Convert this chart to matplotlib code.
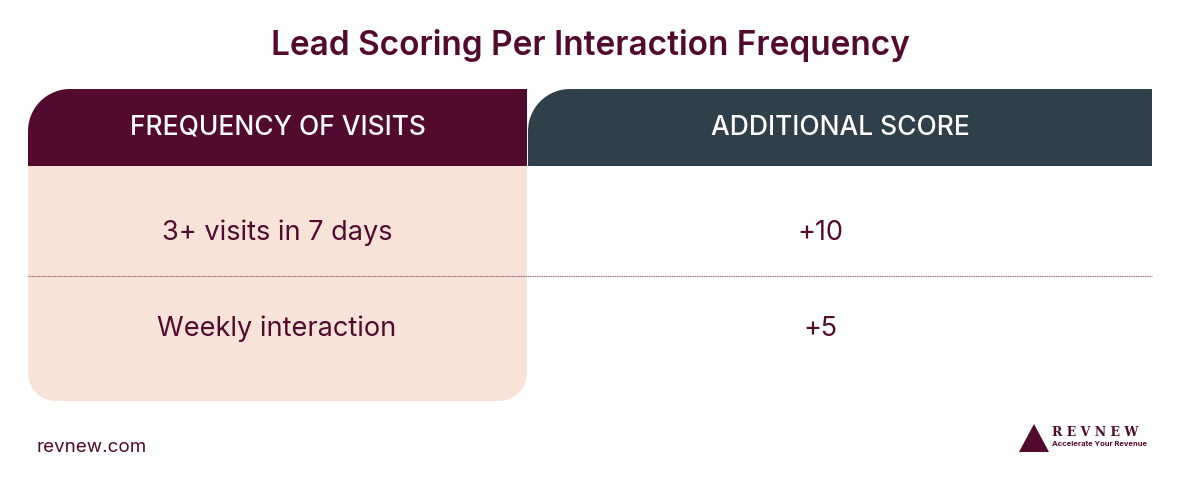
import numpy as np
import matplotlib.pyplot as plt
from matplotlib.patches import Polygon

plt.rcParams["font.family"] = "Inter"

title = "Lead Scoring Per Interaction Frequency"
headers = ["FREQUENCY OF VISITS", "ADDITIONAL SCORE"]
frequencies = ["3+ visits in 7 days", "Weekly interaction"]
scores = ["+10", "+5"]

WINE = "#520a2e"
SLATE = "#2f404a"
PEACH = "#f7e3d7"


def rounded_box(x0, y0, x1, y1, radii):
    """Polygon with per-corner radii (tl, tr, br, bl) in y-down pixel coords."""
    tl, tr, br, bl = radii
    pts = []

    def arc(cx, cy, r, a0, a1):
        if r == 0:
            pts.append((cx, cy))
            return
        for a in np.linspace(a0, a1, 20):
            pts.append((cx + r * np.cos(a), cy + r * np.sin(a)))

    arc(x0 + tl, y0 + tl, tl, np.pi, 1.5 * np.pi)
    arc(x1 - tr, y0 + tr, tr, 1.5 * np.pi, 2 * np.pi)
    arc(x1 - br, y1 - br, br, 0, 0.5 * np.pi)
    arc(x0 + bl, y1 - bl, bl, 0.5 * np.pi, np.pi)
    return pts


fig = plt.figure(figsize=(11.8, 4.8), dpi=100)
ax = fig.add_axes([0, 0, 1, 1])
ax.set_xlim(0, 1180)
ax.set_ylim(480, 0)
ax.axis("off")

ax.text(590, 46, title, ha="center", va="center", fontsize=24,
        fontweight="semibold", color=WINE)

# body and headers
ax.add_patch(Polygon(rounded_box(28, 160, 527, 401, (0, 0, 28, 28)), color=PEACH, lw=0))
ax.add_patch(Polygon(rounded_box(28, 89, 527, 166, (42, 0, 0, 0)), color=WINE, lw=0))
ax.add_patch(Polygon(rounded_box(528, 89, 1152, 166, (42, 0, 0, 0)), color=SLATE, lw=0))

ax.text(278, 128, headers[0], ha="center", va="center", fontsize=19,
        fontweight="medium", color="white")
ax.text(840, 128, headers[1], ha="center", va="center", fontsize=19,
        fontweight="medium", color="white")

row_y = [233, 329]
for y, f, s in zip(row_y, frequencies, scores):
    ax.text(277, y, f, ha="center", va="center", fontsize=19.5, color=WINE)
    ax.text(820, y, s, ha="center", va="center", fontsize=19.5, color=WINE)

ax.plot([28, 1152], [276, 276], color="#9a5a78", lw=0.8, ls=(0, (1, 0.6)))

ax.text(37, 448, "revnew.com", ha="left", va="center", fontsize=13.5, color=WINE)

# logo
ax.add_patch(Polygon([(1019, 452), (1034, 424), (1049, 452)], color=WINE, lw=0))
ax.text(1052, 432, "R E V N E W", ha="left", va="center", fontsize=9,
        fontweight="bold", color=WINE, family="DejaVu Serif")
ax.text(1052, 444, "Accelerate Your Revenue", ha="left", va="center",
        fontsize=5.5, fontweight="bold", color=WINE)

fig.savefig("out.png", dpi=100)
